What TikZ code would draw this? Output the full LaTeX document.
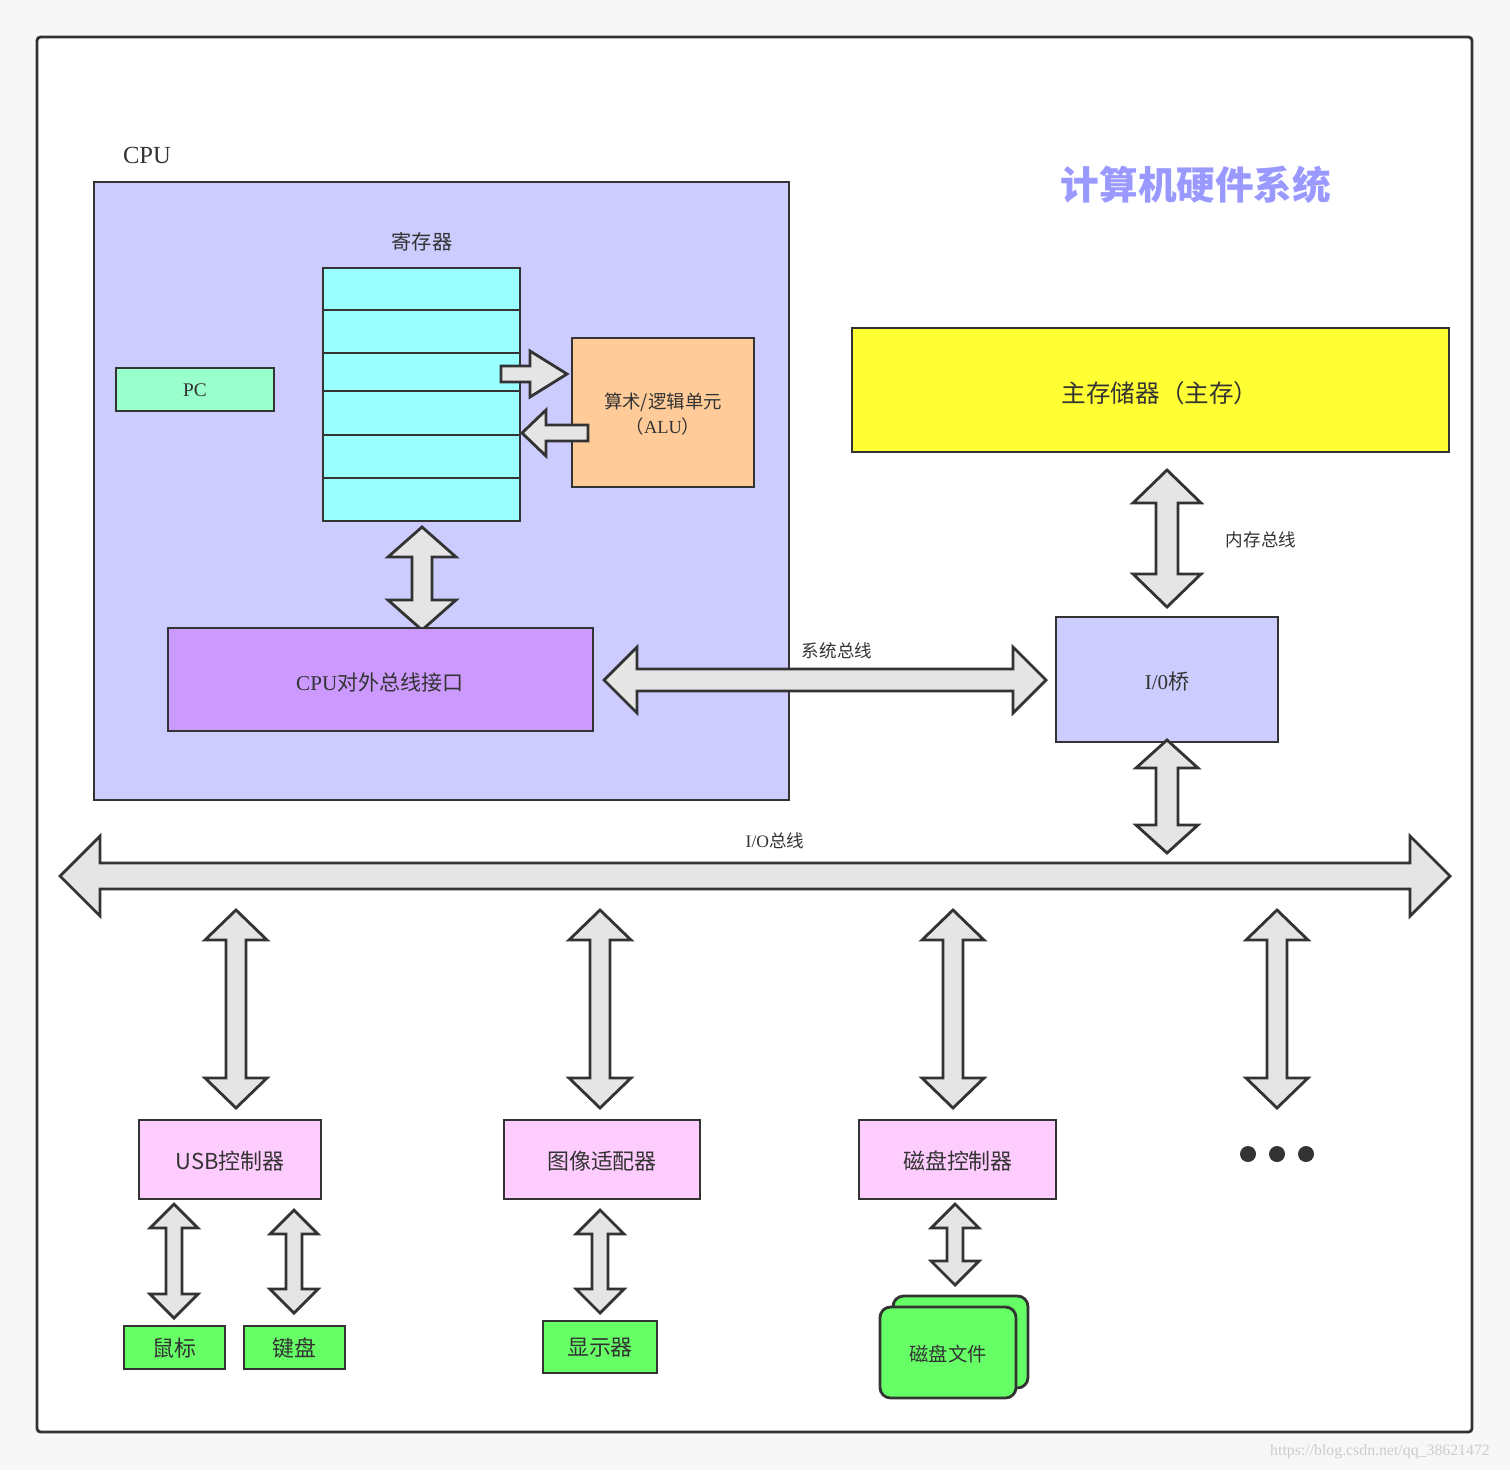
\documentclass[tikz,border=0pt]{standalone}
\usepackage{fontspec}
\setmainfont{Liberation Serif}
\newfontfamily\cjk{Noto Sans CJK SC}
\begin{document}
\begin{tikzpicture}[x=0.02cm,y=-0.02cm,
  box/.style={draw=black!80,line width=1.6pt},
  arr/.style={draw=black!80,line width=1.6pt,fill=black!10,line join=miter},
  lbl/.style={font=\cjk\fontsize{10}{12}\selectfont,text=black!80},
  pink/.style={box,fill={rgb,255:red,255;green,204;blue,255}},
  grn/.style={box,fill={rgb,255:red,102;green,255;blue,102}},
  big/.style={font=\cjk\fontsize{12.5}{15}\selectfont,text=black!80}]
\newcommand\vdarr[6]{% x y1 y2 hw sw hl
  \draw[arr] (#1,#2) -- ({#1+#4},{#2+#6}) -- ({#1+#5},{#2+#6}) -- ({#1+#5},{#3-#6}) -- ({#1+#4},{#3-#6}) -- (#1,#3) -- ({#1-#4},{#3-#6}) -- ({#1-#5},{#3-#6}) -- ({#1-#5},{#2+#6}) -- ({#1-#4},{#2+#6}) -- cycle;}
\newcommand\hdarr[6]{% y x1 x2 hw sw hl
  \draw[arr] (#2,#1) -- ({#2+#6},{#1-#4}) -- ({#2+#6},{#1-#5}) -- ({#3-#6},{#1-#5}) -- ({#3-#6},{#1-#4}) -- (#3,#1) -- ({#3-#6},{#1+#4}) -- ({#3-#6},{#1+#5}) -- ({#2+#6},{#1+#5}) -- ({#2+#6},{#1+#4}) -- cycle;}
\fill[black!3] (0,0) rectangle (1510,1470);
\useasboundingbox (0,0) rectangle (1510,1470);
\draw[box,fill=white,rounded corners=2pt] (37,37) rectangle (1472,1432);
\node[font=\fontsize{14}{16}\selectfont,text=black!80] (cpul) at (147,155) {CPU};
\draw[box,fill={rgb,255:red,204;green,204;blue,255}] (94,182) rectangle (789,800);
\node[font=\cjk\bfseries\fontsize{22}{26}\selectfont,text={rgb,255:red,153;green,153;blue,255}] (title) at (1196,185) {计算机硬件系统};
\node[lbl,font=\cjk\fontsize{11.5}{14}\selectfont] (regl) at (422,242) {寄存器};
\foreach \a/\b in {268/310,310/353,353/391,391/435,435/478,478/521}
  {\draw[box,fill={rgb,255:red,153;green,255;blue,255}] (323,\a) rectangle (520,\b);}
\draw[box,fill={rgb,255:red,153;green,255;blue,204}] (116,368) rectangle (274,411);
\node[font=\fontsize{11}{13}\selectfont,text=black!80] (pc) at (195,390) {PC};
\draw[box,fill={rgb,255:red,255;green,204;blue,153}] (572,338) rectangle (754,487);
\node[align=center,text=black!80,font=\fontsize{10.5}{14}\selectfont] (alu) at (663,414) {{\cjk 算术/逻辑单元}\\{\cjk（}ALU{\cjk ）}};
\draw[arr] (501,366) -- (530,366) -- (530,351) -- (567,374) -- (530,397) -- (530,382) -- (501,382) -- cycle;
\draw[arr] (588,425) -- (546,425) -- (546,410) -- (522,433) -- (546,456) -- (546,441) -- (588,441) -- cycle;
\vdarr{422}{527}{630}{34}{10}{30}
\draw[box,fill={rgb,255:red,204;green,153;blue,255}] (168,628) rectangle (593,731);
\node[text=black!80,font=\fontsize{12}{14}\selectfont] (ifc) at (380,682) {CPU{\cjk 对外总线接口}};
\hdarr{680}{604}{1046}{33}{11}{33}
\node[lbl] (sysl) at (837,651) {系统总线};
\draw[box,fill={rgb,255:red,255;green,255;blue,51}] (852,328) rectangle (1449,452);
\node[font=\cjk\fontsize{14}{16}\selectfont,text=black!80] (mem) at (1160,393) {主存储器（主存）};
\vdarr{1167}{470}{607}{34}{11}{33}
\node[lbl] (meml) at (1261,540) {内存总线};
\draw[box,fill={rgb,255:red,204;green,204;blue,255}] (1056,617) rectangle (1278,742);
\node[text=black!80,font=\fontsize{12}{14}\selectfont] (iob) at (1167,682) {I/0{\cjk 桥}};
\vdarr{1167}{740}{853}{31}{11}{28}
\hdarr{876}{60}{1450}{40}{13}{40}
\node[text=black!80,font=\fontsize{10}{12}\selectfont] (iol) at (775,841) {I/O{\cjk 总线}};
\foreach \x in {236,600,953,1277} {\vdarr{\x}{910}{1108}{31}{10}{30}}
\draw[pink] (139,1120) rectangle (321,1199); \node[big] (usb) at (230,1161) {USB控制器};
\draw[pink] (504,1120) rectangle (700,1199); \node[big] (gpu) at (602,1161) {图像适配器};
\draw[pink] (859,1120) rectangle (1056,1199); \node[big] (dsk) at (958,1161) {磁盘控制器};
\foreach \x in {1248,1277,1306} {\fill[black!80] (\x,1154) circle (8);}
\vdarr{174}{1204}{1318}{24}{8}{24}
\vdarr{294}{1210}{1313}{24}{8}{24}
\vdarr{600}{1210}{1313}{24}{8}{24}
\vdarr{955}{1204}{1285}{24}{8}{24}
\draw[grn] (124,1326) rectangle (225,1369); \node[big] (mouse) at (174,1348) {鼠标};
\draw[grn] (244,1326) rectangle (345,1369); \node[big] (kbd) at (294,1348) {键盘};
\draw[grn] (543,1321) rectangle (657,1373); \node[big] (disp) at (600,1348) {显示器};
\draw[grn,rounded corners=6pt] (893,1296) rectangle (1028,1388);
\draw[grn,rounded corners=6pt] (880,1307) rectangle (1016,1398);
\node[lbl,font=\cjk\fontsize{11}{13}\selectfont] (file) at (948,1354) {磁盘文件};
\node[font=\fontsize{9}{11}\selectfont,text=black!20] (wm) at (1380,1452) {https://blog.csdn.net/qq\_38621472};
\end{tikzpicture}
\end{document}
